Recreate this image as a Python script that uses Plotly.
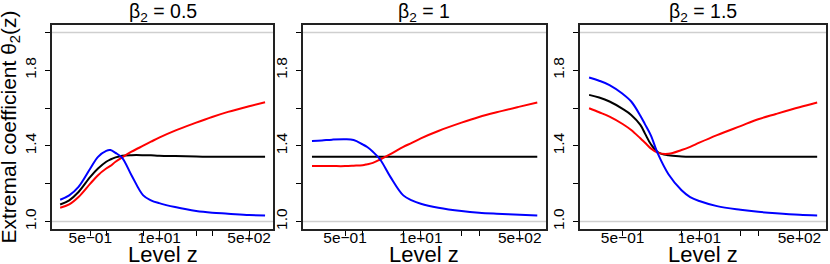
import plotly.graph_objects as go

# ---- data ----
z_levels = [0.135, 0.2, 0.3, 0.5, 0.7, 1, 1.2, 1.5, 2, 3, 5, 7, 10, 20, 50, 100, 200, 500, 1000]

panel_titles = ["β<sub>2</sub> = 0.5", "β<sub>2</sub> = 1", "β<sub>2</sub> = 1.5"]

blue_b05 = [1.115, 1.138, 1.183, 1.280, 1.342, 1.374, 1.378, 1.363, 1.337, 1.245, 1.138, 1.112, 1.097, 1.076, 1.055, 1.046, 1.041, 1.034, 1.032]
black_b05 = [1.090, 1.112, 1.156, 1.236, 1.280, 1.316, 1.328, 1.339, 1.348, 1.351, 1.351, 1.350, 1.348, 1.346, 1.344, 1.342, 1.342, 1.342, 1.342]
red_b05 = [1.073, 1.090, 1.129, 1.200, 1.245, 1.280, 1.294, 1.316, 1.339, 1.369, 1.401, 1.422, 1.444, 1.481, 1.523, 1.553, 1.580, 1.610, 1.631]

blue_b10 = [1.426, 1.429, 1.433, 1.435, 1.431, 1.408, 1.394, 1.369, 1.328, 1.236, 1.138, 1.112, 1.094, 1.073, 1.055, 1.046, 1.041, 1.036, 1.032]
black_b10 = [1.342, 1.342, 1.342, 1.342, 1.342, 1.342, 1.342, 1.342, 1.342, 1.342, 1.342, 1.342, 1.342, 1.342, 1.342, 1.342, 1.342, 1.342, 1.342]
red_b10 = [1.293, 1.293, 1.293, 1.293, 1.295, 1.298, 1.303, 1.310, 1.328, 1.356, 1.395, 1.416, 1.440, 1.479, 1.523, 1.553, 1.578, 1.608, 1.630]

blue_b15 = [1.762, 1.745, 1.722, 1.676, 1.635, 1.560, 1.514, 1.457, 1.356, 1.250, 1.165, 1.129, 1.108, 1.081, 1.062, 1.051, 1.043, 1.035, 1.032]
black_b15 = [1.670, 1.656, 1.635, 1.596, 1.564, 1.511, 1.465, 1.410, 1.366, 1.350, 1.344, 1.342, 1.342, 1.342, 1.342, 1.342, 1.342, 1.342, 1.342]
red_b15 = [1.599, 1.578, 1.555, 1.516, 1.484, 1.440, 1.417, 1.387, 1.363, 1.358, 1.378, 1.395, 1.417, 1.457, 1.505, 1.541, 1.569, 1.605, 1.630]

panels = [
    (black_b05, red_b05, blue_b05),
    (black_b10, red_b10, blue_b10),
    (black_b15, red_b15, blue_b15),
]

x_tickvals = [0.5, 1, 5, 10, 50, 100, 500]
x_ticktext = ["5e\u221201", "", "", "1e+01", "", "", "5e+02"]
y_tickvals = [1.0, 1.2, 1.4, 1.6, 1.8, 2.0]
y_ticktext = ["1.0", "", "1.4", "", "1.8", ""]
ref_levels = [1, 2]

# ---- layout geometry ----
W, H = 830, 264
x_domains_px = [(52, 273), (303, 546), (580, 826)]
y_top_px, y_bot_px = 25, 229
FONT = "Liberation Sans, Arial, Helvetica, sans-serif"

fig = go.Figure()
colors = ["black", "#FF0000", "#0000FF"]

for i, series in enumerate(panels):
    xa = "x" if i == 0 else f"x{i+1}"
    ya = "y" if i == 0 else f"y{i+1}"
    for s, c in zip(series, colors):
        fig.add_trace(go.Scatter(x=z_levels, y=s, mode="lines",
                                 line=dict(color=c, width=2, shape="spline", smoothing=1.0),
                                 xaxis=xa, yaxis=ya, showlegend=False, hoverinfo="skip"))
    for lv in ref_levels:
        fig.add_shape(type="line", xref=f"{xa} domain", yref=ya, x0=0, x1=1, y0=lv, y1=lv,
                      line=dict(color="#cfcfcf", width=1.5), layer="below")

layout = dict(width=W, height=H, margin=dict(l=0, r=0, t=0, b=0, autoexpand=False),
              paper_bgcolor="white", plot_bgcolor="white", showlegend=False,
              font=dict(family=FONT, color="black"))

for i, (x0, x1) in enumerate(x_domains_px):
    xk = "xaxis" if i == 0 else f"xaxis{i+1}"
    yk = "yaxis" if i == 0 else f"yaxis{i+1}"
    xa = "x" if i == 0 else f"x{i+1}"
    ya = "y" if i == 0 else f"y{i+1}"
    layout[xk] = dict(domain=[x0 / W, x1 / W], anchor=ya, type="log", range=[-1.024, 3.15],
                      tickvals=x_tickvals, ticktext=x_ticktext, ticks="outside", ticklen=5,
                      tickwidth=1, tickcolor="black", showline=True, linecolor="#222",
                      linewidth=1.5, mirror=True, showgrid=False, zeroline=False,
                      tickangle=0, automargin=False, ticklabelstandoff=-11,
                      tickfont=dict(size=15.5, family=FONT, color="black"))
    layout[yk] = dict(domain=[1 - y_bot_px / H, 1 - y_top_px / H], anchor=xa, range=[0.96, 2.04],
                      tickvals=y_tickvals, ticktext=y_ticktext, ticks="outside", ticklen=5,
                      tickwidth=1, tickcolor="black", showline=True, linecolor="#222",
                      linewidth=1.5, mirror=True, showgrid=False, zeroline=False,
                      tickangle=-90, automargin=False, ticklabelstandoff=3,
                      tickfont=dict(size=15.5, family=FONT, color="black"))

fig.update_layout(**layout)

annotations = []
for i, (x0, x1) in enumerate(x_domains_px):
    cx = (x0 + x1) / 2 / W
    annotations.append(dict(text=panel_titles[i], x=cx, y=1 - 13 / H, xref="paper", yref="paper",
                            xanchor="center", yanchor="middle", showarrow=False,
                            font=dict(size=19.5, family=FONT, color="black")))
    annotations.append(dict(text="Level z", x=cx, y=1 - 254.5 / H, xref="paper", yref="paper",
                            xanchor="center", yanchor="middle", showarrow=False,
                            font=dict(size=22, family=FONT, color="black")))
annotations.append(dict(text="Extremal coefficient θ<sub>2</sub>(z)", x=9.5 / W, y=1 - 127 / H,
                        xref="paper", yref="paper", xanchor="center", yanchor="middle",
                        textangle=-90, showarrow=False,
                        font=dict(size=21, family=FONT, color="black")))
fig.update_layout(annotations=annotations)

fig.write_html("out.html", config={"displayModeBar": False},
               post_script="document.body.style.margin='0';document.body.style.padding='0';")
